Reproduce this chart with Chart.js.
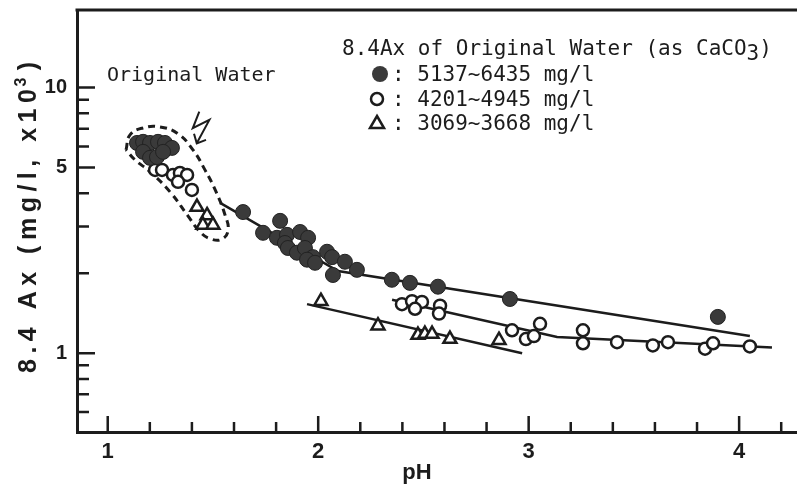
<!DOCTYPE html>
<html>
<head>
<meta charset="utf-8">
<script src="https://cdn.jsdelivr.net/npm/chart.js@4.4.0/dist/chart.umd.min.js"></script>
<style>
  html, body { margin: 0; padding: 0; background: #fff; overflow: hidden; }
  #wrap { width: 797px; height: 487px; position: relative; }
  canvas { display: block; }
</style>
</head>
<body>
<div id="wrap"><canvas id="chart"></canvas></div>
<script>
// 8.4Ax (mg/l, x10^3) against pH

// filled circles: original water 5137~6435 mg/l
const filledPH = [1.139, 1.168, 1.201, 1.239, 1.272, 1.305, 1.168, 1.201, 1.234, 1.263,
                  1.643, 1.819, 1.738, 1.804, 1.852, 1.914, 1.952, 1.842, 1.856, 1.899,
                  1.937, 1.975, 1.947, 1.985, 2.042, 2.066, 2.127, 2.070, 2.184, 2.350,
                  2.436, 2.569, 2.911, 3.899];
const filledAx = [6.19, 6.25, 6.19, 6.25, 6.19, 5.93, 5.73, 5.44, 5.48, 5.73,
                  3.40, 3.15, 2.84, 2.72, 2.79, 2.86, 2.72, 2.60, 2.49, 2.39,
                  2.49, 2.30, 2.25, 2.19, 2.41, 2.30, 2.21, 1.97, 2.06, 1.89,
                  1.84, 1.78, 1.60, 1.37];

// open circles: 4201~4945 mg/l
const openPH = [1.225, 1.258, 1.310, 1.343, 1.377, 1.334, 1.400,
                2.398, 2.446, 2.493, 2.460, 2.579, 2.574, 2.921, 2.987, 3.025, 3.054,
                3.258, 3.258, 3.420, 3.590, 3.662, 3.838, 3.876, 4.051];
const openAx = [4.90, 4.90, 4.69, 4.77, 4.69, 4.42, 4.12,
                1.53, 1.57, 1.56, 1.47, 1.51, 1.41, 1.22, 1.13, 1.16, 1.29,
                1.22, 1.09, 1.10, 1.07, 1.10, 1.04, 1.09, 1.06];

// triangles: 3069~3668 mg/l
const triPH = [1.424, 1.472, 1.452, 1.500, 2.013, 2.284, 2.474, 2.507, 2.541, 2.626, 2.859];
const triAx = [3.55, 3.30, 3.04, 3.04, 1.57, 1.27, 1.17, 1.18, 1.18, 1.13, 1.12];

// hand-drawn trend lines
const filledFitPH = [1.534, 2.094, 4.051];
const filledFitAx = [3.68, 2.04, 1.16];
const openFitPH = [2.351, 3.135, 4.156];
const openFitAx = [1.59, 1.15, 1.05];
const triFitPH = [1.947, 2.969];
const triFitAx = [1.53, 1.00];

// dashed loop round the original water points, and the zigzag arrow
const loopPH = [1.087, 1.106, 1.168, 1.248, 1.334, 1.405, 1.462, 1.515, 1.557, 1.572,
                1.543, 1.491, 1.439, 1.381, 1.296, 1.201, 1.130, 1.087];
const loopAx = [5.83, 6.64, 7.05, 7.11, 6.70, 5.83, 4.90, 4.05, 3.32, 2.91,
                2.69, 2.69, 2.86, 3.29, 4.05, 4.82, 5.34, 5.83];
const arrowPH = [1.435, 1.404, 1.483, 1.423];
const arrowAx = [8.12, 7.03, 7.56, 6.17];
const headPH = [1.410, 1.423, 1.467];
const headAx = [6.70, 6.17, 6.36];

// axes
const xLabelTicks = [1, 2, 3, 4];
const xMinorTicks = [1.2, 1.4, 1.6, 1.8, 2.2, 2.4, 2.6, 2.8, 3.2, 3.4, 3.6, 3.8, 4.2];
const yLabelTicks = [1, 5, 10];
const yMinorTicks = [0.6, 0.7, 0.8, 0.9, 2, 3, 4, 6, 7, 8, 9];

const legendTitle = "8.4Ax of Original Water (as CaCO";
const legendRows = [": 5137~6435 mg/l", ": 4201~4945 mg/l", ": 3069~3668 mg/l"];

const ink = "#1c1c1c";
const mono = "'DejaVu Sans Mono', monospace";
const sans = "'Liberation Sans', Arial, sans-serif";

function pts(xs, ys) {
  return xs.map((x, i) => ({ x: x, y: ys[i] }));
}

function lineSet(xs, ys, extra) {
  return Object.assign({
    data: pts(xs, ys),
    showLine: true,
    borderColor: ink,
    borderWidth: 2.5,
    pointRadius: 0,
    fill: false,
  }, extra || {});
}

// scales should not reserve room for half a label at their ends
function noEndPadding(s) {
  s.paddingTop = 0;
  s.paddingBottom = 0;
  s.paddingLeft = 0;
  s.paddingRight = 0;
}

// inner ticks, top frame and all the printed text
const decor = {
  id: "decor",
  afterDraw(chart) {
    const { ctx, chartArea: a, scales: { x, y } } = chart;
    ctx.save();
    ctx.strokeStyle = ink;
    ctx.lineWidth = 2.5;
    ctx.beginPath();
    xLabelTicks.forEach(v => { const p = x.getPixelForValue(v); ctx.moveTo(p, a.bottom); ctx.lineTo(p, a.bottom - 16); });
    xMinorTicks.forEach(v => { const p = x.getPixelForValue(v); ctx.moveTo(p, a.bottom); ctx.lineTo(p, a.bottom - 10); });
    yLabelTicks.forEach(v => { const p = y.getPixelForValue(v); ctx.moveTo(a.left, p); ctx.lineTo(a.left + 18, p); });
    yMinorTicks.forEach(v => { const p = y.getPixelForValue(v); ctx.moveTo(a.left, p); ctx.lineTo(a.left + 12, p); });
    ctx.stroke();

    ctx.lineWidth = 3;
    ctx.beginPath();
    ctx.moveTo(a.left - 1.5, a.top);
    ctx.lineTo(a.right, a.top);
    ctx.stroke();

    ctx.fillStyle = ink;
    ctx.textBaseline = "alphabetic";

    // axis titles
    ctx.font = "bold 22px " + sans;
    ctx.textAlign = "center";
    ctx.fillText("pH", 417, 479);

    ctx.save();
    ctx.translate(36, 373);
    ctx.rotate(-Math.PI / 2);
    ctx.textAlign = "left";
    ctx.font = "bold 25px " + sans;
    ctx.letterSpacing = "5.5px";
    const part1 = "8.4 Ax (mg/l, x10";
    ctx.fillText(part1, 0, 0);
    let w = ctx.measureText(part1).width;
    ctx.font = "bold 16px " + sans;
    ctx.fillText("3", w - 3, -10);
    w += ctx.measureText("3").width - 1;
    ctx.font = "bold 25px " + sans;
    ctx.fillText(")", w, 0);
    ctx.restore();

    // annotation
    ctx.textAlign = "left";
    ctx.font = "20px " + mono;
    ctx.fillText("Original Water", 107, 81);

    // legend
    ctx.font = "21px " + mono;
    ctx.fillText(legendTitle, 342, 55);
    const tw = ctx.measureText(legendTitle).width;
    ctx.fillText("3", 342 + tw, 60);
    ctx.fillText(")", 342 + tw + ctx.measureText("3").width, 55);

    const rowY = [81, 106, 130];
    legendRows.forEach((t, i) => ctx.fillText(t, 392, rowY[i]));

    ctx.lineWidth = 2.5;
    ctx.fillStyle = "#3a3a3a";
    ctx.beginPath(); ctx.arc(380, 74, 8, 0, Math.PI * 2); ctx.fill();
    ctx.fillStyle = "#fff";
    ctx.beginPath(); ctx.arc(377, 99, 6, 0, Math.PI * 2); ctx.fill(); ctx.stroke();
    ctx.beginPath();
    ctx.moveTo(377, 116); ctx.lineTo(384, 128); ctx.lineTo(370, 128); ctx.closePath();
    ctx.fill(); ctx.stroke();
    ctx.restore();
  }
};

new Chart(document.getElementById("chart"), {
  type: "scatter",
  data: {
    datasets: [
      {
        label: "5137~6435 mg/l",
        data: pts(filledPH, filledAx),
        pointRadius: 7.5,
        backgroundColor: "#3a3a3a",
        borderColor: "#222",
        borderWidth: 1,
      },
      {
        label: "4201~4945 mg/l",
        data: pts(openPH, openAx),
        pointRadius: 6,
        backgroundColor: "#fff",
        borderColor: ink,
        borderWidth: 2.5,
      },
      {
        label: "3069~3668 mg/l",
        data: pts(triPH, triAx),
        pointStyle: "triangle",
        pointRadius: 7.5,
        backgroundColor: "#fff",
        borderColor: ink,
        borderWidth: 2.5,
      },
      lineSet(filledFitPH, filledFitAx),
      lineSet(openFitPH, openFitAx),
      lineSet(triFitPH, triFitAx),
      lineSet(loopPH, loopAx, { borderDash: [7, 5], borderWidth: 3, tension: 0.45 }),
      lineSet(arrowPH, arrowAx, { borderWidth: 2 }),
      lineSet(headPH, headAx, { borderWidth: 2 }),
    ],
  },
  options: {
    responsive: true,
    maintainAspectRatio: false,
    animation: false,
    layout: { autoPadding: false, padding: { top: 10, right: 0, left: 0, bottom: 0 } },
    plugins: {
      legend: { display: false },
      tooltip: { enabled: false },
    },
    scales: {
      x: {
        type: "linear",
        min: 0.854,
        max: 4.275,
        grid: { display: false, drawTicks: false },
        border: { display: true, width: 3, color: ink },
        ticks: {
          color: ink,
          font: { family: sans, size: 22, weight: "bold" },
          padding: 7,
          autoSkip: false,
          maxRotation: 0,
        },
        afterBuildTicks: s => { s.ticks = xLabelTicks.map(v => ({ value: v })); },
        afterFit: s => { s.height = 55; noEndPadding(s); },
      },
      y: {
        type: "logarithmic",
        min: 0.505,
        max: 19.6,
        grid: { display: false, drawTicks: false },
        border: { display: true, width: 3, color: ink },
        ticks: {
          color: ink,
          font: { family: sans, size: 20, weight: "bold" },
          padding: 10,
          autoSkip: false,
          callback: v => String(v),
        },
        afterBuildTicks: s => { s.ticks = yLabelTicks.map(v => ({ value: v })); },
        afterFit: s => { s.width = 77; noEndPadding(s); },
      },
    },
  },
  plugins: [decor],
});
</script>
</body>
</html>
